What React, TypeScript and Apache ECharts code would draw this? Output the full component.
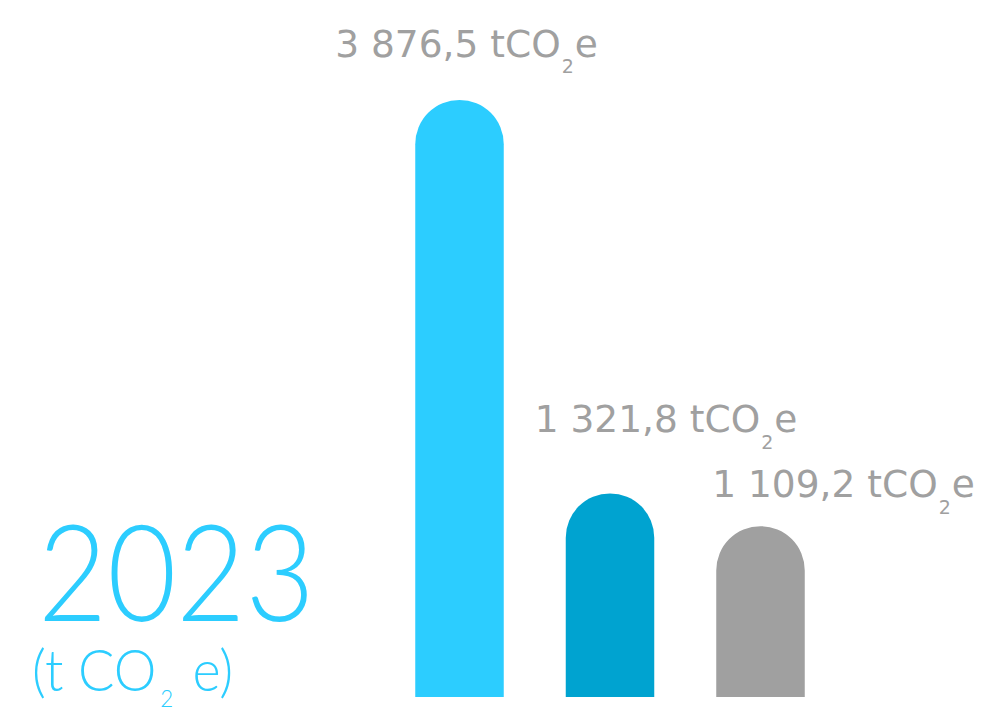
import React, { useEffect, useRef } from "react";
import * as echarts from "echarts";

const categories = ["A", "B", "C"];
const values = [3876.5, 1321.8, 1109.2];
const barColors = ["#2ccdff", "#00a3d0", "#a0a0a0"];
const unitMain = "tCO";
const unitSub = "2";
const unitEnd = "e";
const yearText = "2023";

const labelOffsets: [number, number][] = [
  [7, -31],
  [56, -49],
  [83, -17],
];

function fmt(v: number): string {
  const [i, d] = v.toFixed(1).split(".");
  const withSpaces = i.replace(/\B(?=(\d{3})+(?!\d))/g, " ");
  return withSpaces + "," + d;
}

export default function App() {
  const ref = useRef<HTMLDivElement>(null);
  useEffect(() => {
    if (!ref.current) return;
    const chart = echarts.init(ref.current, undefined, { renderer: "svg" });
    const labelFont = "DejaVu Sans";
    const font = "Lato";
    chart.setOption({
      animation: false,
      backgroundColor: "#ffffff",
      grid: { left: 384.25, right: 149.25, top: 0, bottom: 15 },
      xAxis: {
        type: "category",
        data: categories,
        show: false,
      },
      yAxis: {
        type: "value",
        min: 0,
        max: 4525,
        show: false,
      },
      series: [
        {
          type: "bar",
          barWidth: 88.5,
          data: values.map((v, i) => ({
            value: v,
            itemStyle: { color: barColors[i], borderRadius: [44.25, 44.25, 0, 0] },
            label: { offset: labelOffsets[i] },
          })),
          label: {
            show: true,
            position: "top",
            distance: 0,
            formatter: (p: any) => `{m|${fmt(p.value)} ${unitMain}}{s|${unitSub}}{m|${unitEnd}}`,
            rich: {
              m: {
                fontFamily: labelFont,
                fontSize: 37.5,
                color: "#a0a0a0",
                lineHeight: 44,
                verticalAlign: "top",
              },
              s: {
                fontFamily: labelFont,
                fontSize: 19,
                color: "#a0a0a0",
                lineHeight: 19,
                padding: [32, 1, 0, 1],
                verticalAlign: "top",
              },
            },
          },
        },
      ],
      graphic: [
        {
          type: "text",
          x: 38,
          y: 502,
          scaleX: 0.89,
          style: {
            text: yearText,
            fontFamily: font,
            fontWeight: 300,
            fontSize: 134,
            fill: "#2ccdff",
            verticalAlign: "top",
            align: "left",
          },
        },
        {
          type: "text",
          x: 32,
          y: 640,
          scaleX: 0.93,
          style: {
            text: `{m|(t CO}{s|2}{m| e)}`,
            verticalAlign: "top",
            align: "left",
            rich: {
              m: {
                fontFamily: font,
                fontWeight: 300,
                fontSize: 58,
                fill: "#2ccdff",
                color: "#2ccdff",
                lineHeight: 70,
                verticalAlign: "top",
              },
              s: {
                fontFamily: font,
                fontWeight: 300,
                fontSize: 24,
                fill: "#2ccdff",
                color: "#2ccdff",
                lineHeight: 24,
                padding: [46, 5, 0, 4],
                verticalAlign: "top",
              },
            },
          },
        },
      ],
    });
    return () => chart.dispose();
  }, []);
  return (
    <div
      ref={ref}
      style={{ position: "absolute", left: 0, top: 0, width: 985, height: 712 }}
    />
  );
}
